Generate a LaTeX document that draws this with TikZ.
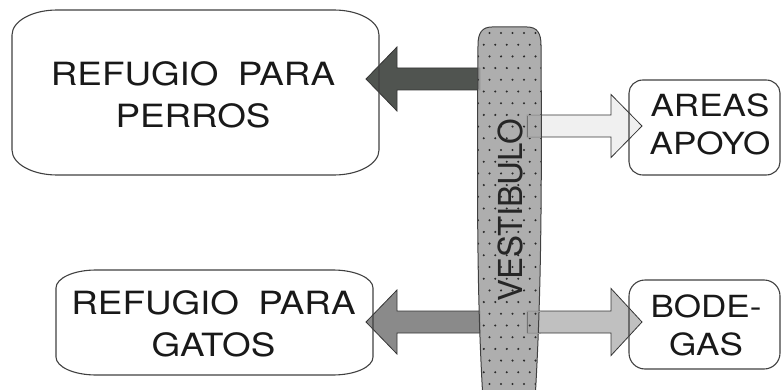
\documentclass[tikz,border=0pt]{standalone}
\usepackage{fontspec}
\usetikzlibrary{calc}
\newfontfamily\labfont[FakeStretch=1.15]{TeX Gyre Heros}
\newfontfamily\vestfont{TeX Gyre Heros}
\definecolor{boxline}{HTML}{404040}
\definecolor{arrline}{HTML}{353535}
\definecolor{vestgray}{HTML}{A3A3A3}
\definecolor{dotc}{HTML}{2A2A2A}
\definecolor{perrosc}{HTML}{505450}
\definecolor{gatosc}{HTML}{8A8A8A}
\definecolor{areasc}{HTML}{F0F0F0}
\definecolor{bodegasc}{HTML}{C0C0C0}
\tikzset{
  boxshape/.style={draw=none, inner sep=0pt, outer sep=0pt, minimum width=#1},
  boxedge/.style={draw=boxline, line width=1.1pt},
  arredge/.style={draw=arrline, line width=0.8pt, line join=miter},
  bigtext/.style={align=center, inner sep=0pt, text=black!90, font=\labfont\fontsize{32}{42}\selectfont},
  smalltext/.style={align=center, inner sep=0pt, text=black!90, font=\labfont\fontsize{30.5}{38}\selectfont},
}
% elliptical-corner outline around a named node: #1 node, #2 x radius, #3 y radius
\newcommand\eboxline[3]{%
  \draw[boxedge] ([xshift=#2]#1.north west) -- ([xshift=-#2]#1.north east)
    arc[start angle=90,end angle=0,x radius=#2,y radius=#3]
    -- ([yshift=#3]#1.south east)
    arc[start angle=0,end angle=-90,x radius=#2,y radius=#3]
    -- ([xshift=#2]#1.south west)
    arc[start angle=270,end angle=180,x radius=#2,y radius=#3]
    -- ([yshift=-#3]#1.north west)
    arc[start angle=180,end angle=90,x radius=#2,y radius=#3] -- cycle;}
% block arrow pointing left: #1 start, #2 tip, #3 colour, #4 head half-height
\newcommand\leftblock[4]{%
  \filldraw[arredge, fill=#3] ($(#1)+(0,-11)$) -- ($(#2)+(31,-11)$) -- ($(#2)+(31,-#4)$)
    -- (#2) -- ($(#2)+(31,#4)$) -- ($(#2)+(31,11)$) -- ($(#1)+(0,11)$) -- cycle;}
% block arrow pointing right
\newcommand\rightblock[4]{%
  \filldraw[arredge, fill=#3] ($(#1)+(0,-11)$) -- ($(#2)+(-31,-11)$) -- ($(#2)+(-31,-#4)$)
    -- (#2) -- ($(#2)+(-31,#4)$) -- ($(#2)+(-31,11)$) -- ($(#1)+(0,11)$) -- cycle;}
\newcommand\vestpath{(478,45) .. controls (478,33) and (482,27) .. (492,27)
  -- (527,27) .. controls (537,27) and (541,33) .. (541,45)
  .. controls (542,200) and (541,300) .. (535,400) -- (483,400)
  .. controls (477,300) and (477,200) .. (478,45) -- cycle}
\begin{document}
\begin{tikzpicture}[x=1pt,y=-1pt]
\useasboundingbox (0,0) rectangle (783,390);
\clip (0,0) rectangle (783,390);

% box shapes (named)
\node[boxshape=367pt, minimum height=165pt] (perros) at (195.5,92.5) {};
\node[boxshape=317pt, minimum height=105pt] (gatos) at (214.5,322.5) {};
\node[boxshape=151pt, minimum height=95pt] (areas) at (704.5,127.5) {};
\node[boxshape=151pt, minimum height=89pt] (bodegas) at (704.5,324.5) {};

% arrow end points
\coordinate (p1s) at (480,79);  \coordinate (p1e) at (366,79);
\coordinate (p2s) at (480,322); \coordinate (p2e) at (366,322);
\coordinate (p3s) at (527,126); \coordinate (p3e) at (642,126);
\coordinate (p4s) at (527,322); \coordinate (p4e) at (642,322);

% arrows to the left (behind the vestibule)
\leftblock{p1s}{p1e}{perrosc}{32}
\leftblock{p2s}{p2e}{gatosc}{32}
% arrows to the right
\rightblock{p3s}{p3e}{areasc}{31.5}
\rightblock{p4s}{p4e}{bodegasc}{33.5}

% vestibule
\path[fill=vestgray, fill opacity=0.88] \vestpath;
\begin{scope}
  \clip \vestpath;
  \foreach \j in {0,...,32} {
    \foreach \i in {0,...,5} {
      \pgfmathsetmacro\xx{478+11.5*\i+mod(\j,2)*5.75}
      \pgfmathsetmacro\yy{33+11.7*\j}
      \fill[dotc] (\xx,\yy) circle[radius=1.15pt];
    }
  }
\end{scope}
\draw[boxedge, line width=1pt] \vestpath;
% shaft starts of right arrows seen through the vestibule
\draw[arrline!70, line width=0.7pt] ($(p3s)+(0,-11)$) -- ($(p3s)+(0,11)$);
\draw[arrline!70, line width=0.7pt] ($(p4s)+(0,-11)$) -- ($(p4s)+(0,11)$);
\draw[arrline!50, line width=0.6pt] ($(p3s)+(0,-11)$) -- ($(p3s)+(14,-11)$) ($(p3s)+(0,11)$) -- ($(p3s)+(14,11)$);
\draw[arrline!50, line width=0.6pt] ($(p4s)+(0,-11)$) -- ($(p4s)+(14,-11)$) ($(p4s)+(0,11)$) -- ($(p4s)+(14,11)$);

\node[rotate=90, inner sep=0pt, text=black!85, font=\vestfont\fontsize{33}{33}\selectfont] (vtext) at (510,210) {VESTIBULO};

% box outlines
\eboxline{perros}{45pt}{25pt}
\eboxline{gatos}{40pt}{18pt}
\eboxline{areas}{14pt}{13pt}
\eboxline{bodegas}{16pt}{16pt}

% labels
\node[bigtext] (perrost) at (193,95) {REFUGIO\hspace{9pt} PARA\\PERROS};
\node[bigtext] (gatost) at (213.5,324) {REFUGIO\hspace{9pt} PARA\\GATOS};
\node[smalltext] (areast) at (710,124) {AREAS\\APOYO};
\node[smalltext] (bodegast) at (706,325) {BODE-\\GAS};
\end{tikzpicture}
\end{document}
